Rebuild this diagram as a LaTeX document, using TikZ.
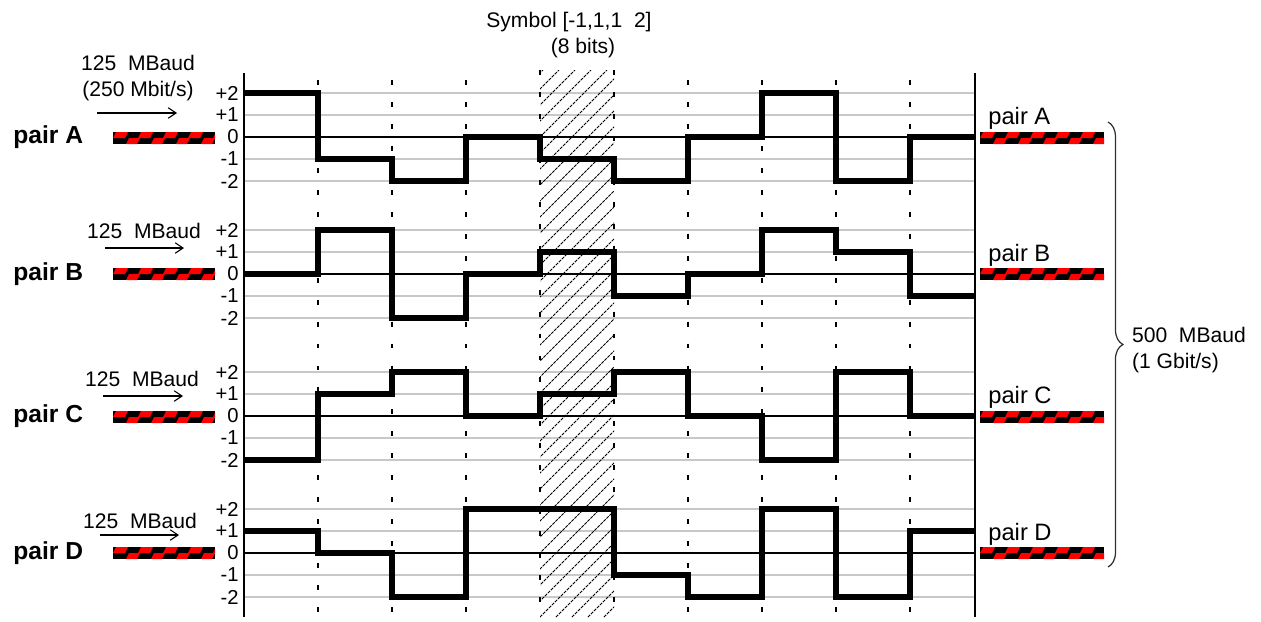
\documentclass[tikz,border=0pt]{standalone}
\usepackage{fontspec}
\setsansfont{Liberation Sans}
\usetikzlibrary{arrows.meta, decorations.pathreplacing}
\definecolor{cred}{HTML}{FF0000}
\definecolor{cgrid}{HTML}{C8C8C8}
\definecolor{cdark}{HTML}{303030}
\tikzset{
  every picture/.style={font=\sffamily, x=0.02cm, y=-0.02cm},
  lbl/.style={font=\sffamily\fontsize{12}{14.5}\selectfont, inner sep=1pt, align=center},
  tick/.style={font=\sffamily\fontsize{11.5}{13}\selectfont, anchor=east, inner sep=0pt},
  pairlbl/.style={font=\sffamily\bfseries\fontsize{14}{16}\selectfont, anchor=west, inner sep=0pt},
  rlbl/.style={font=\sffamily\fontsize{13.5}{16}\selectfont, anchor=west, inner sep=0pt},
  wave/.style={line width=3.8pt, line join=miter},
  axis/.style={line width=1.1pt},
  gridln/.style={draw=cgrid, line width=0.8pt},
  zeroln/.style={line width=0.6pt},
  sep/.style={line width=0.75pt, dash pattern=on 2.8pt off 9.7pt},
  hatchln/.style={draw=black, line width=0.55pt, dash pattern=on 1.8pt off 0.6pt},
  rate/.style={-{Straight Barb[length=4.5pt, width=6pt]}, line width=0.6pt},
  brc/.style={decorate, decoration={brace, amplitude=8.5pt}, draw=cdark, line width=0.7pt},
  pics/twisted/.style={code={
    \fill[black] (0,-6) rectangle (#1,6);
    \begin{scope}
      \clip (0,-6) rectangle (#1,6);
      \foreach \s in {0,25,...,#1} {
        \fill[cred] (\s,0) -- ({\s+3},-6) -- ({\s+15},-6) -- ({\s+12},0) -- cycle;
        \fill[cred] ({\s+13},6) -- ({\s+16},0) -- ({\s+27},0) -- ({\s+24},6) -- cycle;
      }
    \end{scope}
  }},
}

\begin{document}
\begin{tikzpicture}
  \useasboundingbox (0,0) rectangle (1261,622);

  % level grid of the four pairs
  \foreach \z in {137,274,416,553} {
    \foreach \l in {-2,-1,1,2}
      \draw[gridln] (244,{\z-22*\l}) -- (975,{\z-22*\l});
  }

  % hatched symbol column
  \begin{scope}
    \clip (540,70) rectangle (614,617);
    \foreach \s in {-560,-544,...,80}
      \draw[hatchln] ({540+(\s)},617) -- ({1087+(\s)},70);
  \end{scope}
  \draw[sep] (540,70) -- (540,617);
  \draw[sep] (614,70) -- (614,617);

  % symbol borders
  \foreach \x in {318,392,466,688,762,836,910}
    \draw[sep] (\x,80) -- (\x,617);

  \foreach \z in {137,274,416,553}
    \draw[zeroln] (244,\z) -- (975,\z);

  \draw[axis] (244,73) -- (244,617);
  \draw[axis] (975,73) -- (975,617);

  % tick labels
  \foreach \p/\z in {A/137,B/274,C/416,D/553}
    \foreach \l/\t [count=\i] in {2/+2,1/+1,0/0,-1/-1,-2/-2}
      \node[tick] (t\p\i) at (239,{\z-22*\l}) {\t};

  % PAM-5 waveforms
  \draw[wave] (244,93) \foreach \v [count=\k from 0] in {2,-1,-2,0,-1,-2,0,2,-2,0}
    { -- ({244+74*\k},{137-22*\v}) -- ({min(244+74*(\k+1),975)},{137-22*\v}) };
  \draw[wave] (244,274) \foreach \v [count=\k from 0] in {0,2,-2,0,1,-1,0,2,1,-1}
    { -- ({244+74*\k},{274-22*\v}) -- ({min(244+74*(\k+1),975)},{274-22*\v}) };
  \draw[wave] (244,460) \foreach \v [count=\k from 0] in {-2,1,2,0,1,2,0,-2,2,0}
    { -- ({244+74*\k},{416-22*\v}) -- ({min(244+74*(\k+1),975)},{416-22*\v}) };
  \draw[wave] (244,531) \foreach \v [count=\k from 0] in {1,0,-2,2,2,-1,-2,2,-2,1}
    { -- ({244+74*\k},{553-22*\v}) -- ({min(244+74*(\k+1),975)},{553-22*\v}) };

  % left side: pairs in
  \node[pairlbl] (lA) at (13,137) {pair A};
  \node[pairlbl] (lB) at (13,274) {pair B};
  \node[pairlbl] (lC) at (13,416) {pair C};
  \node[pairlbl] (lD) at (13,553) {pair D};
  \pic (iA) at (113,138) {twisted=102};
  \pic (iB) at (113,274) {twisted=102};
  \pic (iC) at (113,417) {twisted=102};
  \pic (iD) at (113,553) {twisted=102};

  \node[lbl] (rateA) at (138,78) {125~~MBaud\\(250 Mbit/s)};
  \node[lbl] (rateB) at (144,231) {125~~MBaud};
  \node[lbl] (rateC) at (142,379) {125~~MBaud};
  \node[lbl] (rateD) at (140,521) {125~~MBaud};
  \coordinate (aA1) at (97,113);  \coordinate (aA2) at (177,113);
  \coordinate (aB1) at (105,248); \coordinate (aB2) at (184,248);
  \coordinate (aC1) at (103,396); \coordinate (aC2) at (183,396);
  \coordinate (aD1) at (100,535); \coordinate (aD2) at (179,535);
  \draw[rate] (aA1) -- (aA2);
  \draw[rate] (aB1) -- (aB2);
  \draw[rate] (aC1) -- (aC2);
  \draw[rate] (aD1) -- (aD2);

  \node[lbl] (sym) at (569,22) {Symbol [-1,1,1~~2]};
  \node[lbl] (bits) at (583,48) {(8 bits)};

  % right side: pairs out
  \node[rlbl] (rA) at (988,118) {pair A};
  \node[rlbl] (rB) at (988,255) {pair B};
  \node[rlbl] (rC) at (988,397) {pair C};
  \node[rlbl] (rD) at (988,534) {pair D};
  \pic (oA) at (980,138) {twisted=124};
  \pic (oB) at (980,274) {twisted=124};
  \pic (oC) at (980,417) {twisted=124};
  \pic (oD) at (980,553) {twisted=124};

  \coordinate (bTop) at (1108,122);
  \coordinate (bBot) at (1108,567);
  \draw[brc] (bTop) -- (bBot);
  \node[lbl, anchor=west, align=left] (total) at (1130,350) {500~~MBaud\\(1 Gbit/s)};
\end{tikzpicture}
\end{document}
